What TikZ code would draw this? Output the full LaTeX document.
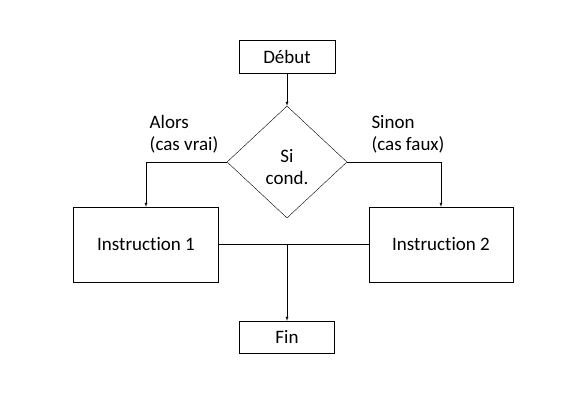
\documentclass[tikz,border=0pt]{standalone}
\usepackage{fontspec}
\setmainfont{Carlito}[Ligatures=NoCommon]
\usepackage{tikz}
\usetikzlibrary{shapes,arrows,positioning}
\tikzset{>=latex,x=1pt,y=-1pt,line width=1.3pt,every node/.style={font=\fontsize{19}{22}\selectfont},
  box/.style={draw,rectangle,inner sep=0pt},
  cond/.style={draw,diamond,inner sep=0pt,minimum width=120pt,minimum height=112pt},
  label/.style={align=left,inner sep=0pt}}

\begin{document}
\begin{tikzpicture}
    \useasboundingbox (0,0) rectangle (576,418);
    \node[box,minimum width=96pt,minimum height=33pt] (debut) at (287,56.5) {Début};
    \node[cond] (si) at (287,162) {};
    \node[label,align=center] (sitext) at (287,167) {Si\\cond.};
    \node[box,minimum width=145pt,minimum height=75pt] (inst1) at (146,244.5) {Instruction 1};
    \node[box,minimum width=144pt,minimum height=75pt] (inst2) at (441,244.5) {Instruction 2};
    \node[box,minimum width=95pt,minimum height=32pt] (fin) at (287,337) {Fin};
    \node[label] (alors) at (184,134) {Alors\\(cas vrai)};
    \node[label] (sinon) at (408,134) {Sinon\\(cas faux)};
    \coordinate (j) at (fin.north |- inst1.east);
    \draw[->] (debut) -- (si);
    \draw[->] (si.west) -| (inst1.north);
    \draw[->] (si.east) -| (inst2.north);
    \draw (inst1.east) -- (inst2.west);
    \draw[->] (j) -- (fin);
\end{tikzpicture}
\end{document}
